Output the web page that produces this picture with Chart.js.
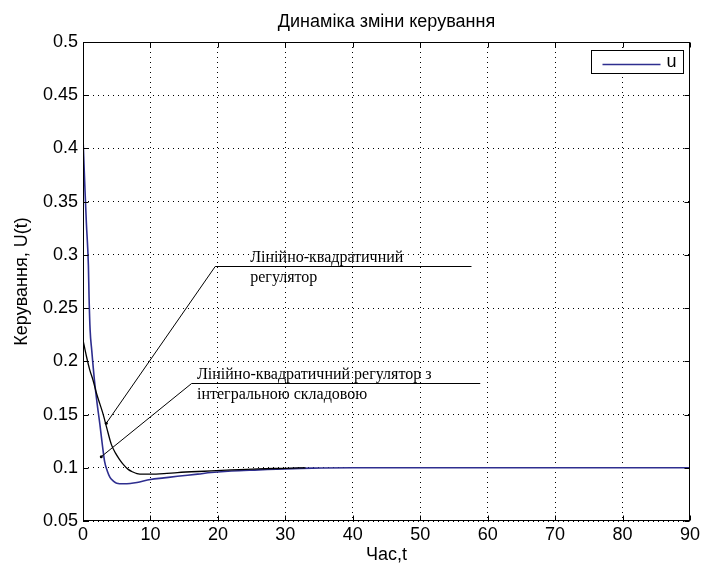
<!DOCTYPE html>
<html>
<head>
<meta charset="utf-8">
<script src="https://cdn.jsdelivr.net/npm/chart.js@4.4.1/dist/chart.umd.min.js"></script>
<style>
    html, body { margin: 0; padding: 0; background: #fff; }
    #wrap { width: 703px; height: 570px; }
</style>
</head>
<body>
<div id="wrap"><canvas id="myChart"></canvas></div>
<script>
// control signal, LQR regulator (blue, "u")
const tBlue = [0, 0.3, 0.5, 0.8, 0.9, 1.05, 1.3, 1.7, 2.1, 2.5, 2.9, 3.2, 3.6, 4.0, 4.5, 5, 6, 7, 8, 10, 12, 14, 17, 19, 22, 26, 30, 34, 40, 50, 60, 70, 80, 90];
const uBlue = [0.41, 0.36, 0.33, 0.29, 0.26, 0.23, 0.21, 0.182, 0.16, 0.141, 0.12, 0.106, 0.097, 0.091, 0.0875, 0.0855, 0.085, 0.0853, 0.0862, 0.089, 0.0905, 0.092, 0.094, 0.0955, 0.097, 0.098, 0.099, 0.0997, 0.1, 0.1, 0.1, 0.1, 0.1, 0.1];

// control signal, LQR with integral part (black)
const tBlack = [0, 0.5, 1, 1.5, 2, 2.5, 3, 3.5, 4.2, 4.8, 5.4, 6, 6.7, 7.4, 8, 9, 10, 12, 14, 17, 19, 22, 26, 30, 33];
const uBlack = [0.22, 0.205, 0.192, 0.182, 0.17, 0.16, 0.15, 0.138, 0.122, 0.114, 0.108, 0.103, 0.0985, 0.096, 0.0945, 0.094, 0.094, 0.0945, 0.0955, 0.0965, 0.097, 0.098, 0.099, 0.0995, 0.1];

const xTicks = [0, 10, 20, 30, 40, 50, 60, 70, 80, 90];
const yTicks = [0.05, 0.1, 0.15, 0.2, 0.25, 0.3, 0.35, 0.4, 0.45, 0.5];
const yTickLabels = ['0.05', '0.1', '0.15', '0.2', '0.25', '0.3', '0.35', '0.4', '0.45', '0.5'];

// callouts: tip on curve, knee, end of underline (data units)
const notes = [
    { lines: ['Лінійно-квадратичний', 'регулятор'], tip: [3.45, 0.1418], knee: [19.6, 0.2896], end: 57.6, textX: 24.8 },
    { lines: ['Лінійно-квадратичний регулятор з', 'інтегральною складовою'], tip: [2.71, 0.1104], knee: [16.1, 0.180], end: 58.9, textX: 16.9 }
];

const sans = '"Liberation Sans", Arial, sans-serif';
const serif = '"Liberation Serif", "Times New Roman", serif';

function toPoints(ts, vs) {
    return ts.map((t, i) => ({ x: t, y: vs[i] }));
}

// box, inward ticks, legend
const matlabFrame = {
    id: 'matlabFrame',
    afterDatasetsDraw(chart) {
        const { ctx, scales: { x, y } } = chart;
        ctx.save();
        ctx.strokeStyle = '#000';
        ctx.fillStyle = '#000';
        ctx.lineWidth = 1;
        notes.forEach(n => {
            const px = v => x.getPixelForValue(v);
            const py = v => y.getPixelForValue(v);
            ctx.beginPath();
            ctx.moveTo(px(n.tip[0]), py(n.tip[1]));
            ctx.lineTo(px(n.knee[0]), Math.round(py(n.knee[1])) + 0.5);
            ctx.lineTo(px(n.end), Math.round(py(n.knee[1])) + 0.5);
            ctx.stroke();
            ctx.beginPath();
            ctx.arc(px(n.tip[0]), py(n.tip[1]), 1.5, 0, Math.PI * 2);
            ctx.fill();
            ctx.font = '16px ' + serif;
            ctx.textBaseline = 'alphabetic';
            ctx.textAlign = 'left';
            ctx.fillText(n.lines[0], px(n.textX), py(n.knee[1]) - 4);
            ctx.fillText(n.lines[1], px(n.textX), py(n.knee[1]) + 16);
        });
        ctx.restore();
    },
    afterDraw(chart) {
        const { ctx, chartArea: a, scales: { x, y } } = chart;
        const L = Math.round(a.left) + 0.5, R = Math.round(a.right) - 0.5;
        const T = Math.round(a.top) + 0.5, B = Math.round(a.bottom) - 0.5;
        ctx.save();
        ctx.strokeStyle = '#000';
        ctx.lineWidth = 1;
        ctx.strokeRect(L, T, R - L, B - T);
        ctx.beginPath();
        xTicks.forEach(v => {
            const p = Math.round(x.getPixelForValue(v)) + 0.5;
            ctx.moveTo(p, B); ctx.lineTo(p, B - 5);
            ctx.moveTo(p, T); ctx.lineTo(p, T + 5);
        });
        yTicks.forEach(v => {
            const p = Math.round(y.getPixelForValue(v)) + 0.5;
            ctx.moveTo(L, p); ctx.lineTo(L + 5, p);
            ctx.moveTo(R, p); ctx.lineTo(R - 5, p);
        });
        ctx.stroke();

        // legend box (top right, inside plot)
        const ds = chart.data.datasets[1];
        const bx = Math.round(a.right) - 98.5, by = Math.round(a.top) + 8.5;
        ctx.fillStyle = '#fff';
        ctx.fillRect(bx, by, 92, 23);
        ctx.strokeRect(bx, by, 92, 23);
        ctx.strokeStyle = ds.borderColor;
        ctx.lineWidth = 1.5;
        ctx.beginPath();
        ctx.moveTo(bx + 11, by + 14);
        ctx.lineTo(bx + 69, by + 14);
        ctx.stroke();
        ctx.fillStyle = '#000';
        ctx.font = '18px ' + sans;
        ctx.textBaseline = 'middle';
        ctx.fillText(ds.label, bx + 75, by + 12);
        ctx.restore();
    }
};

const ctx = document.getElementById('myChart').getContext('2d');
const myChart = new Chart(ctx, {
    type: 'line',
    data: {
        datasets: [{
            label: 'LQI',
            data: toPoints(tBlack, uBlack),
            borderColor: '#000000',
            borderWidth: 1.3,
            pointRadius: 0,
            cubicInterpolationMode: 'monotone'
        }, {
            label: 'u',
            data: toPoints(tBlue, uBlue),
            borderColor: '#2e2e8f',
            borderWidth: 1.6,
            pointRadius: 0,
            cubicInterpolationMode: 'monotone'
        }]
    },
    options: {
        responsive: true,
        maintainAspectRatio: false,
        animation: false,
        devicePixelRatio: 1,
        layout: { padding: { left: 0, right: 13, top: 0, bottom: 0 } },
        plugins: {
            legend: { display: false },
            tooltip: { enabled: false },
            title: {
                display: true,
                text: 'Динаміка зміни керування',
                fullSize: false,
                color: '#000',
                font: { family: sans, size: 18, weight: 'normal' },
                padding: { top: 11, bottom: 9.4 }
            }
        },
        scales: {
            x: {
                type: 'linear',
                min: 0,
                max: 90,
                afterBuildTicks: s => { s.ticks = xTicks.map(v => ({ value: v })); },
                afterFit: s => { s.height = 49; },
                grid: { color: '#000', lineWidth: 1, drawTicks: false },
                border: { display: false, dash: [1, 4] },
                ticks: { color: '#000', padding: 3, maxRotation: 0, autoSkip: false, font: { family: sans, size: 18 } },
                title: { display: true, text: 'Час,t', color: '#000', font: { family: sans, size: 18 }, padding: { top: 0, bottom: 4 } }
            },
            y: {
                type: 'linear',
                min: 0.05,
                max: 0.5,
                afterBuildTicks: s => { s.ticks = yTicks.map(v => ({ value: v })); },
                afterFit: s => { s.width = 83; },
                grid: { color: '#000', lineWidth: 1, drawTicks: false },
                border: { display: false, dash: [1, 4] },
                ticks: {
                    color: '#000', padding: 5, autoSkip: false, font: { family: sans, size: 18 },
                    callback: (v, i) => yTickLabels[i]
                },
                title: { display: true, text: 'Керування, U(t)', color: '#000', font: { family: sans, size: 18 }, padding: { top: 11, bottom: 0 } }
            }
        }
    },
    plugins: [matlabFrame]
});
</script>
</body>
</html>
